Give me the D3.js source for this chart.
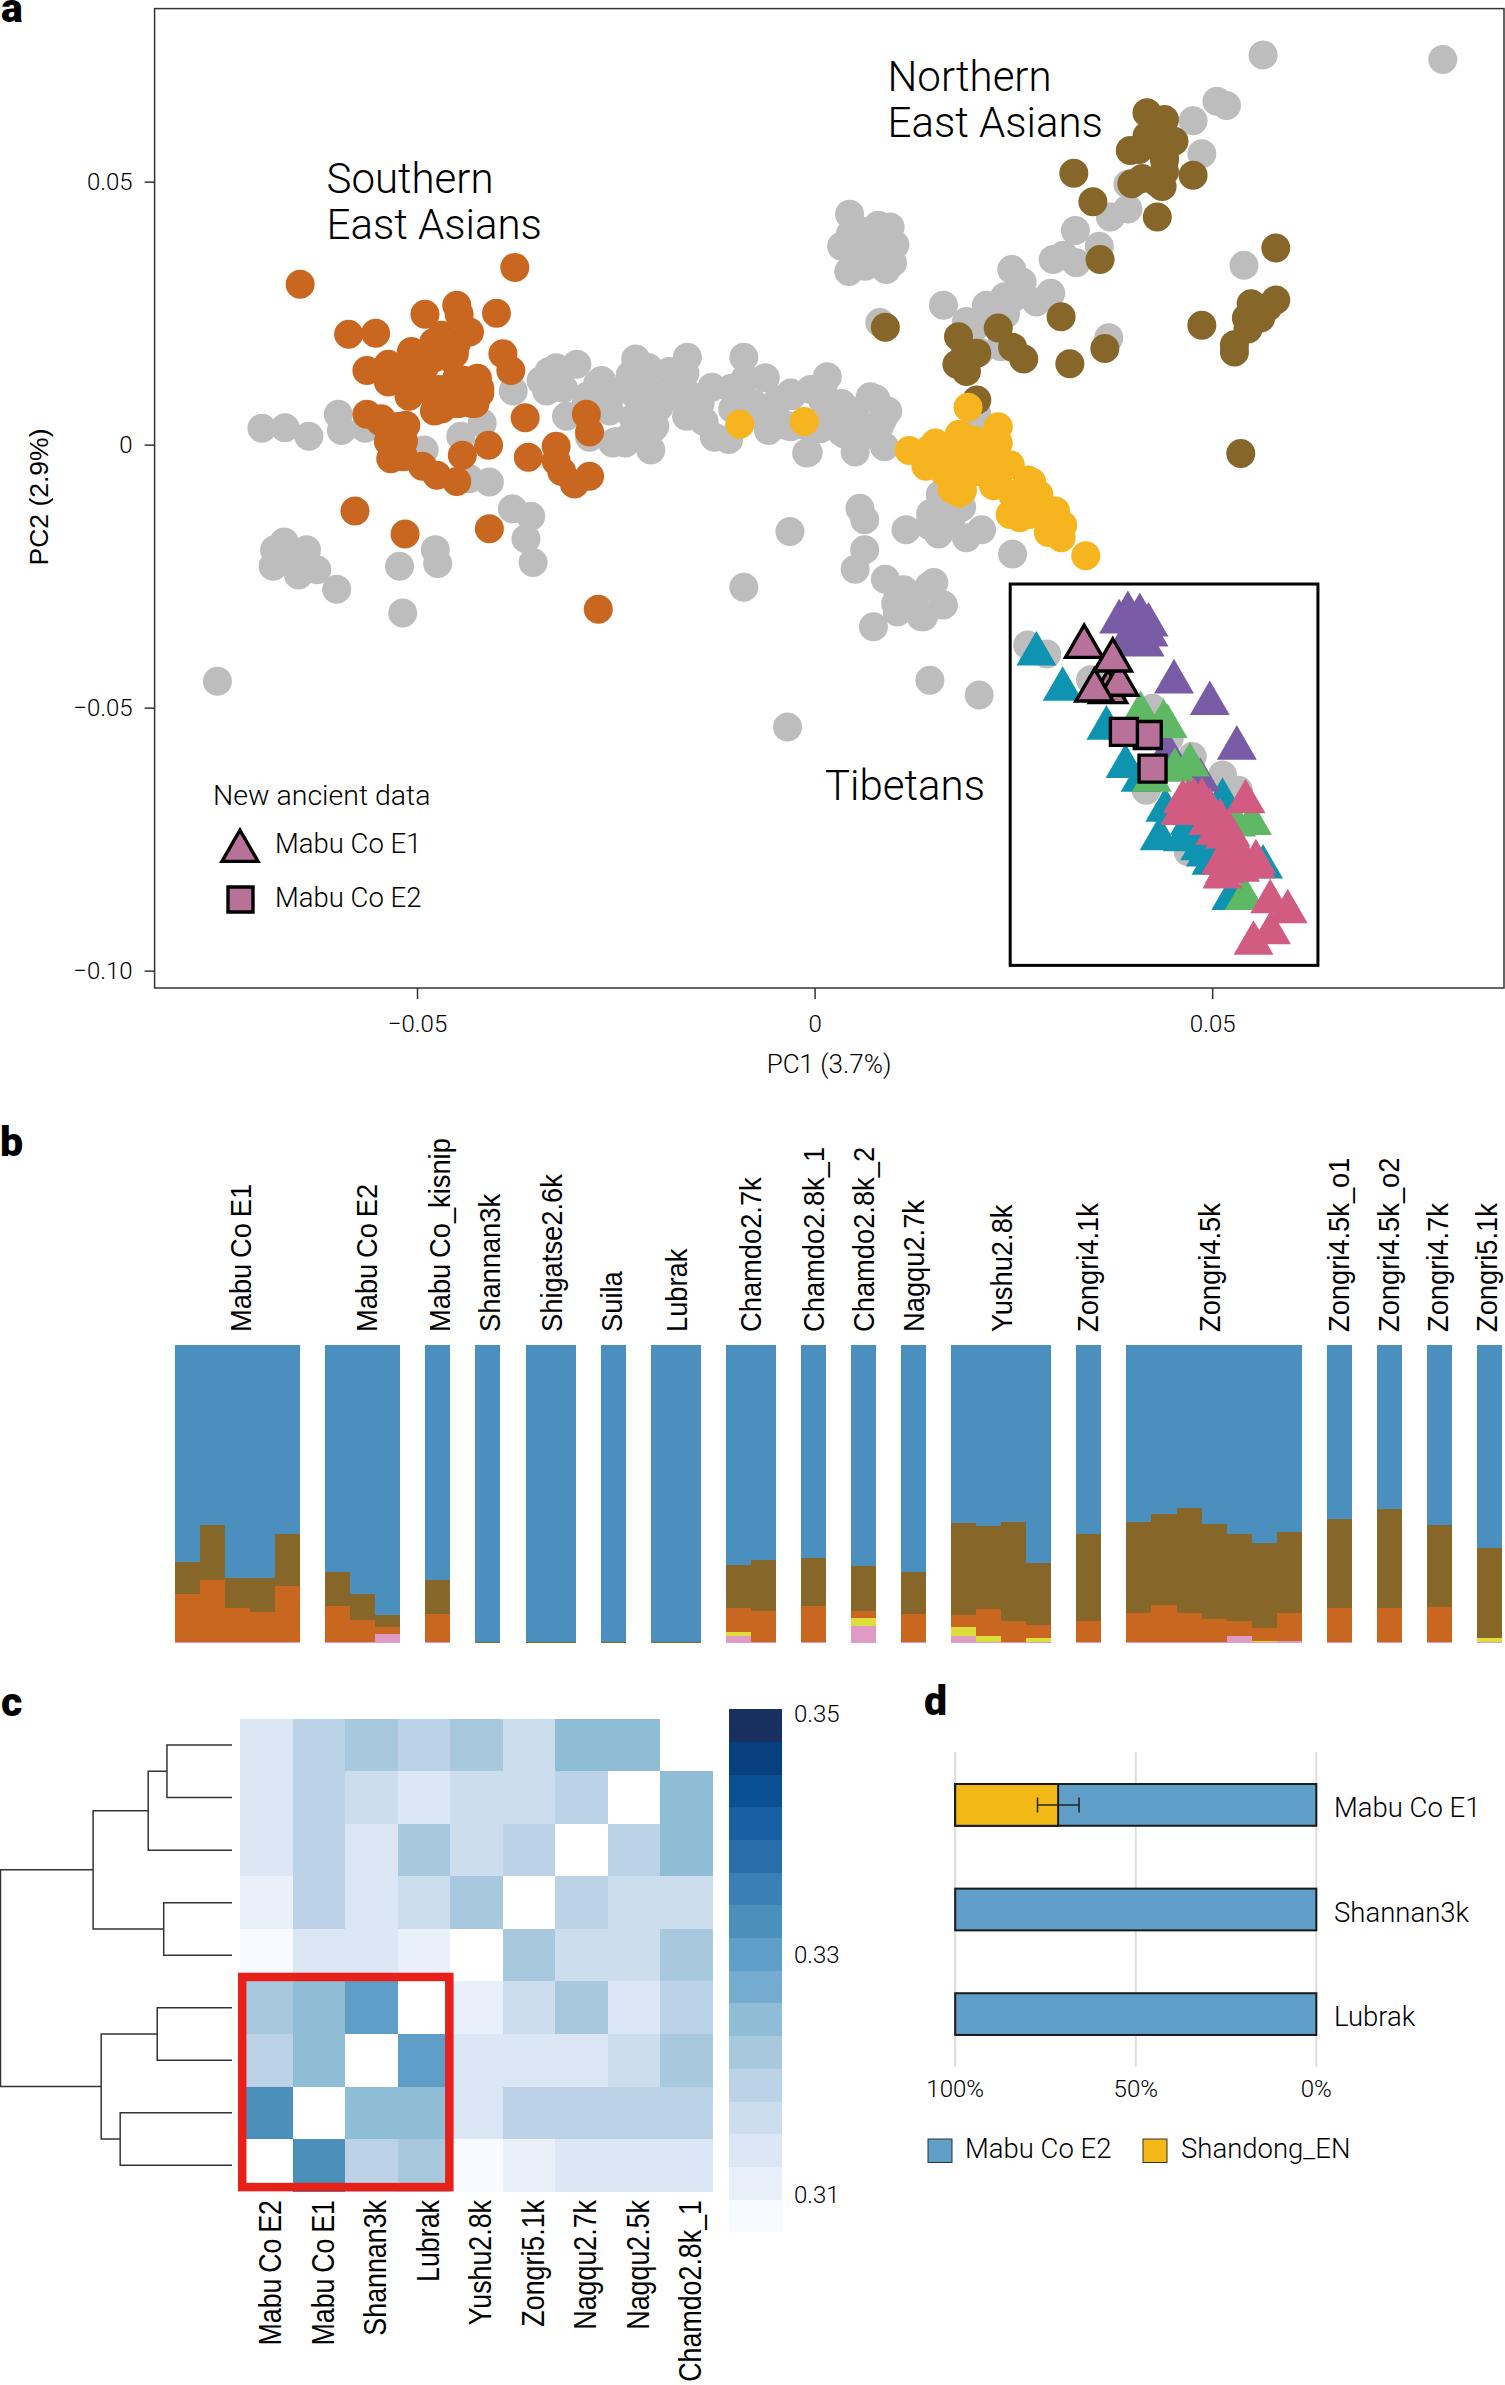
<!DOCTYPE html>
<html>
<head>
<meta charset="utf-8">
<script src="https://cdn.jsdelivr.net/npm/d3@7"></script>
<style>
  html, body { margin: 0; background: #fff; }
  svg { display: block; }
  text { font-family: Roboto, sans-serif; font-weight: 300; fill: #000; }
  .helv { font-family: "Liberation Sans", Arial, sans-serif; font-weight: 400; }
</style>
</head>
<body>
<svg width="1505" height="2385"></svg>
<script>
// panel a: PCA points, [PC1, PC2]
const grayPoints = [
  [-0.0695,0.0031],[-0.0666,0.0032],[-0.0636,0.0016],[-0.0599,0.0058],[-0.0595,0.0027],[-0.0565,0.0031],
  [-0.0491,-0.001],[-0.0418,0.0041],[-0.0445,0.0016],[-0.0409,-0.0071],[-0.0434,-0.0065],[-0.0379,0.0102],
  [-0.0337,0.0102],[-0.0334,0.0139],[-0.0325,0.0146],[-0.0299,0.0153],[-0.0312,0.0054],[-0.0283,0.0014],
  [-0.0273,0.0115],[-0.0286,0.0092],[-0.0254,0.0098],[-0.0254,0.0003],[-0.0238,0.0003],[-0.0206,-0.001],
  [-0.0203,0.0031],[-0.0225,0.0163],[-0.0209,0.0146],[-0.0232,0.0132],[-0.0228,0.0098],[-0.0228,0.0051],
  [-0.0206,0.0098],[-0.0183,0.0139],[-0.016,0.0166],[-0.0196,0.0071],[-0.0158,0.0095],[-0.0161,0.0054],
  [-0.0139,0.0044],[-0.0129,0.0109],[-0.0126,0.0014],[-0.0108,0.001],[-0.0089,0.0166],[-0.0087,0.0126],
  [-0.0062,0.0127],[-0.0094,0.0098],[-0.0103,0.0068],[-0.0068,0.0054],[-0.0058,0.0027],[-0.0046,0.0085],
  [-0.003,0.0098],[-0.003,0.0034],[-0.001,-0.0016],[-0.038,-0.0122],[-0.0357,-0.0136],[-0.0363,-0.0179],
  [-0.0354,-0.0224],[-0.0089,-0.0271],[-0.0034,-0.0537],[-0.0751,-0.045],[-0.0679,-0.02],[-0.0667,-0.0185],
  [-0.0639,-0.02],[-0.0681,-0.0231],[-0.0649,-0.0248],[-0.0658,-0.0221],[-0.0626,-0.0238],[-0.0601,-0.0275],
  [-0.0522,-0.0231],[-0.0477,-0.02],[-0.0474,-0.0226],[-0.0518,-0.032],
  [0.0564,0.0741],[0.079,0.0732],[0.0506,0.0653],[0.0518,0.0645],[0.0476,0.0616],[0.0487,0.0553],
  [0.0394,0.0495],[0.0394,0.0448],[0.0372,0.0433],[0.0328,0.0407],[0.0358,0.0377],[0.03,0.0352],
  [0.0313,0.036],[0.0329,0.0346],[0.054,0.0341],[0.0044,0.0438],[0.008,0.0417],[0.0095,0.0414],
  [0.0034,0.0377],[0.0101,0.038],[0.0043,0.0329],[0.0064,0.0339],[0.009,0.0333],[0.0098,0.0346],
  [0.007,0.0377],[0.0248,0.0333],[0.0261,0.0309],[0.0249,0.0278],[0.0297,0.0288],[0.0279,0.0271],
  [0.0162,0.0265],[0.0216,0.0265],[0.024,0.0248],[0.0082,0.0232],[0.0191,0.0234],[0.0234,0.0186],
  [0.037,0.0203],[0.0207,0.0176],[-0.0048,0.0078],[-0.0005,0.0105],[0.0016,0.0129],[-0.0036,0.0037],
  [0.0007,0.003],[0.001,0.0085],[0.0034,0.0078],[0.007,0.0091],[0.0092,0.0064],[0.0052,0.0051],
  [0.0082,0.0037],[0.0034,0.0024],[0.0051,-0.0014],[0.0088,-0.0004],[-0.0008,-0.0015],[0.0204,0.0058],
  [0.0158,-0.0095],[0.0146,-0.0131],[0.0185,-0.0119],[0.0156,-0.017],[0.0191,-0.0177],[0.021,-0.0162],
  [0.0057,-0.0121],[0.0063,-0.0143],[-0.0031,-0.0165],[0.0115,-0.0162],[0.0063,-0.02],[0.0249,-0.0208],
  [0.0051,-0.0237],[0.0089,-0.0256],[0.015,-0.0262],[0.0112,-0.0276],[0.0162,-0.0305],[0.0102,-0.0302],
  [0.0126,-0.0302],[0.0104,-0.0318],[0.0137,-0.0327],[0.0074,-0.0346],[0.0145,-0.0448],[0.0207,-0.0476],
  [0.0268,-0.0381],[0.0292,-0.0398],[0.0347,-0.0447],[0.0425,-0.0501],[0.0446,-0.0558],[0.0475,-0.0593],
  [0.0513,-0.0628],[0.0533,-0.0657],[0.0417,-0.0657],[0.047,-0.0774],
  [0.0065,0.0405],[0.006,0.036],[0.0085,0.036],[0.0055,0.0375],[0.0085,0.04],[0.0045,0.04],[0.0075,0.0345],[0.0055,0.0345],
  [-0.0268,0.0122],[-0.0258,0.0064],[-0.0239,0.0107],[-0.021,0.0078],[-0.023,0.002],[-0.0201,0.0035],[-0.0182,0.0093],
  [-0.0287,0.0078],[-0.0249,0.0006],[-0.0316,0.0107],[-0.0344,0.0122],[-0.0163,0.0136],[-0.0144,0.0078],
  [0.0019,0.0049],[0.0048,0.0064],[0.0067,0.002],[0.0038,0.002],[0.0086,0.0049],[0.001,0.0107],[-0.0029,0.0093],
  [-0.001,0.0035],[0.0077,0.0087],[-0.0048,0.0049],[-0.0077,0.0078],[-0.0105,0.0107],
  [0.0124,-0.0298],[0.0144,-0.0269],[0.0105,-0.0284],[0.0134,-0.0327],[0.0172,-0.0139],[0.0144,-0.0153],
  [0.0201,0.0223],[0.0239,0.0281],[0.022,0.0252]
];
const orangePoints = [
  [-0.0647,0.0305],[-0.0377,0.0337],[-0.0586,0.021],[-0.0552,0.0212],[-0.049,0.0248],[-0.045,0.0265],
  [-0.0447,0.0248],[-0.04,0.025],[-0.0434,0.0214],[-0.0392,0.0173],[-0.0382,0.0141],[-0.0563,0.0141],
  [-0.0536,0.0153],[-0.0507,0.0177],[-0.0479,0.0194],[-0.0453,0.0173],[-0.0536,0.0119],[-0.051,0.0126],
  [-0.051,0.0092],[-0.0491,0.0146],[-0.0469,0.0068],[-0.0472,0.0105],[-0.0447,0.0078],[-0.0427,0.0078],
  [-0.0421,0.0098],[-0.0424,0.0126],[-0.045,0.0126],[-0.0563,0.0058],[-0.0546,0.0044],[-0.0514,0.0037],
  [-0.0533,0.001],[-0.0517,0.0007],[-0.0533,-0.0027],[-0.041,-0.0001],[-0.0443,-0.002],[-0.0493,-0.0041],
  [-0.0475,-0.0058],[-0.045,-0.007],[-0.0364,0.0051],[-0.0287,0.0058],[-0.0283,0.0024],[-0.036,-0.0024],
  [-0.0325,-0.0003],[-0.0325,-0.0031],[-0.0318,-0.0051],[-0.0302,-0.0075],[-0.0283,-0.006],[-0.0578,-0.0126],
  [-0.0515,-0.017],[-0.0409,-0.016],[-0.0272,-0.0313],
  [-0.0536,0.0136],[-0.0517,0.0122],[-0.0498,0.015],[-0.0478,0.0165],[-0.0459,0.0165],[-0.0498,0.0107],
  [-0.0478,0.0093],[-0.0459,0.0107],[-0.044,0.0122],[-0.0478,0.0064],[-0.045,0.0078],[-0.0421,0.0107],
  [-0.0431,0.0078],[-0.0507,0.0136],[-0.045,0.0194],[-0.0469,0.0208],[-0.0536,0.0006],[-0.0522,0.0035],
  [-0.0545,0.0049],[-0.0517,-0.0023]
];
const brownPoints = [
  [0.0418,0.0631],[0.044,0.0618],[0.0418,0.0587],[0.0452,0.0577],[0.0397,0.0559],[0.044,0.0546],
  [0.0476,0.0512],[0.044,0.0519],[0.0399,0.0496],[0.0412,0.0506],[0.0437,0.0491],[0.0326,0.0516],
  [0.035,0.0462],[0.0431,0.0433],[0.0359,0.0352],[0.058,0.0374],[0.0549,0.0268],[0.058,0.0275],
  [0.0543,0.0241],[0.0561,0.0241],[0.057,0.0261],[0.0487,0.0227],[0.0528,0.019],[0.0528,0.0176],
  [0.031,0.0243],[0.0089,0.0223],[0.0231,0.0222],[0.0181,0.0205],[0.0204,0.0174],[0.0179,0.0153],
  [0.0191,0.0139],[0.0249,0.0185],[0.0263,0.0163],[0.0321,0.0154],[0.0365,0.0183],[0.0204,0.0085],
  [0.0536,-0.0017],[0.0421,0.0584],[0.044,0.0541],[0.0431,0.0498],[0.0408,0.0561],[0.019,0.0175],[0.0545,0.022]
];
const yellowPoints = [
  [-0.0094,0.0039],[-0.0013,0.0044],[0.0193,0.0071],[0.0231,0.0034],[0.0119,-0.0011],[0.0152,0.0003],
  [0.014,-0.0041],[0.0198,0.0009],[0.0231,0.0003],[0.0179,-0.0031],[0.0216,-0.0038],[0.0173,-0.0085],
  [0.0182,-0.0092],[0.0179,-0.0065],[0.0225,-0.0078],[0.0246,-0.0038],[0.0273,-0.0071],[0.0282,-0.0095],
  [0.0246,-0.0133],[0.027,-0.0133],[0.0303,-0.0126],[0.0312,-0.0153],[0.0294,-0.0167],[0.031,-0.0177],
  [0.0341,-0.0211],
  [0.0144,-0.0009],[0.0172,-0.0023],[0.0191,-0.0009],[0.021,0.0006],[0.0163,-0.0052],[0.0201,-0.0052],
  [0.023,-0.0067],[0.0249,-0.0095],[0.0277,-0.0095],[0.0258,-0.0139],[0.0287,-0.0124],[0.0182,0.002],
  [0.022,-0.0023],[0.0239,-0.0038],[0.0297,-0.0153],[0.0268,-0.0067],[0.0186,-0.0087]
];
const tealTriangles = [
  [0.0279,-0.0398],[0.0312,-0.0465],[0.0367,-0.0539],[0.0391,-0.0612],[0.041,-0.0638],[0.0441,-0.0695],
  [0.0434,-0.0749],[0.0472,-0.072],[0.0472,-0.0739],[0.0485,-0.0768],[0.0499,-0.0796],[0.0513,-0.0676],
  [0.0564,-0.0803],[0.0524,-0.0863],[0.0463,-0.0751],[0.0492,-0.078],[0.0506,-0.079],[0.0525,-0.0793]
];
const purpleTriangles = [
  [0.0383,-0.0337],[0.0394,-0.0321],[0.0409,-0.0325],[0.042,-0.0343],[0.0415,-0.0381],[0.042,-0.0362],
  [0.04,-0.0359],[0.039,-0.038],[0.0452,-0.0451],[0.0497,-0.0492],[0.0531,-0.0577],[0.0444,-0.0587],
  [0.0485,-0.0638]
];
const greenTriangles = [
  [0.041,-0.0511],[0.0439,-0.0527],[0.0444,-0.0536],[0.0453,-0.0619],[0.0472,-0.0609],[0.0424,-0.0638],
  [0.055,-0.072],[0.0541,-0.0863],[0.053,-0.0723]
];
const pinkTriangles = [
  [0.0487,-0.0676],[0.0463,-0.0679],[0.046,-0.0701],[0.0501,-0.0707],[0.0542,-0.0679],[0.0511,-0.0739],
  [0.0516,-0.0746],[0.0525,-0.0758],[0.0516,-0.0812],[0.0513,-0.0822],[0.0555,-0.0793],[0.0573,-0.0869],
  [0.0595,-0.0888],[0.0574,-0.0928],[0.0552,-0.0948],
  [0.047,-0.0679],[0.0497,-0.0695],[0.0485,-0.0698],[0.0477,-0.0676],[0.0523,-0.0742],[0.0504,-0.0739],
  [0.0555,-0.0803],[0.0535,-0.0809],[0.0511,-0.0796],
  [0.0475,-0.07],[0.0495,-0.072],[0.051,-0.0715],[0.053,-0.0765],[0.0525,-0.08]
];
const mabuE1Points = [[0.0369,-0.047],[0.0383,-0.0456],[0.0339,-0.0384],[0.0375,-0.041],[0.0352,-0.0467]];
const mabuE2Points = [[0.0419,-0.0552],[0.0389,-0.0546],[0.0425,-0.0616]];
const insetBox = [0.0246, -0.0265, 0.0633, -0.099];
const pcaXTicks = [-0.05, 0, 0.05];
const pcaYTicks = [0.05, 0, -0.05, -0.1];

// panel b: groups and one row of shares (%) per sample, blue is the rest
const groupNames = ["Mabu Co E1","Mabu Co E2","Mabu Co_kisnip","Shannan3k","Shigatse2.6k","Suila","Lubrak","Chamdo2.7k",
  "Chamdo2.8k_1","Chamdo2.8k_2","Nagqu2.7k","Yushu2.8k","Zongri4.1k","Zongri4.5k","Zongri4.5k_o1","Zongri4.5k_o2","Zongri4.7k","Zongri5.1k"];
const groupSizes = [5,3,1,1,2,1,2,2,1,1,1,4,1,7,1,1,1,1];
const labelNudge = [13,13.8,12.6,11.7,11.6,8.7,11.6,10.5,10.7,10.7,10.7,10.7,9.2,5.8,9.7,9.2,8.7,7.5];
const pinkShare =   [.3,.3,.3,.3,.3, .3,.3,3, .3, 0, 0,0, 0, 0,0, 2.1,.3, .3, 5.7, .3, 2.1,.2,.3,.3, .3, .3,.3,.3,.3,2.4,.1,.5, .3, .3, .3, .3];
const yellowShare = [0,0,0,0,0, 0,0,0, 0, 0, 0,0, 0, 0,0, 1.5,0, 0, 2.7, 0, 3.2,2.2,0,1.3, 0, 0,0,0,0,0,.5,0, 0, 0, 0, 1.3];
const orangeShare = [15.9,20.7,11.4,10,18.8, 12.1,7.3,2.3, 9.4, 0, 0,0, 0, 0,0, 8.1,10.3, 12.1, 2.2, 9.4, 3.9,8.9,7,4.4, 7, 9.6,12.4,9.6,7.7,4.9,4.4,9.4, 11.4, 11.4, 11.7, 0];
const brownShare =  [11,18.5,10.1,11.5,17.4, 11.4,8.8,3.9, 11.3, .3, .3,.3, .3, .3,.3, 14.4,17.3, 16, 15.1, 14.1, 31,27.8,33.3,20.8, 29.2, 30.7,30.5,35.2,31.8,29.2,28.6,27.3, 29.8, 33.2, 27.5, 30.2];

// panel c: f3 table, top row is the last column
const heatCols = ["Mabu Co E2","Mabu Co E1","Shannan3k","Lubrak","Yushu2.8k","Zongri5.1k","Nagqu2.7k","Nagqu2.5k","Chamdo2.8k_1"];
const heatValues = [
  [.3137,.3191,.3219,.3191,.3219,.3164,.3246,.3246,null],
  [.3137,.3191,.3164,.3137,.3164,.3164,.3191,null,.3246],
  [.3137,.3191,.3137,.3219,.3164,.3191,null,.3191,.3246],
  [.311,.3191,.3137,.3164,.3219,null,.3191,.3164,.3164],
  [.3083,.3137,.3137,.311,null,.3219,.3164,.3164,.3219],
  [.3219,.3246,.33,null,.311,.3164,.3219,.3137,.3191],
  [.3191,.3246,null,.33,.3137,.3137,.3137,.3164,.3219],
  [.3327,null,.3246,.3246,.3137,.3191,.3191,.3191,.3191],
  [null,.3327,.3191,.3219,.3083,.311,.3137,.3137,.3137]
];
const heatPalette = ["#f7fafe","#e9f0fa","#dbe7f5","#ccddee","#bbd2e7","#a8c9dd","#8fbdd6","#74abcf","#5f9ec7","#4b8fbb","#3a7fb5","#2a6fab","#175fa2","#0a5093","#083f7f","#17305f"];
const heatTicks = [0.35, 0.33, 0.31];
// merges: two children (leaf row or earlier merge id) and height
const dendroMerges = [
  ["A", 0, 1, 0.281],
  ["B", "A", 2, 0.362],
  ["C", 3, 4, 0.295],
  ["D", "B", "C", 0.6],
  ["E", 5, 6, 0.323],
  ["F", 7, 8, 0.483],
  ["G", "E", "F", 0.565],
  ["R", "D", "G", 1]
];

// panel d
const qpCategories = ["Mabu Co E1","Shannan3k","Lubrak"];
const qpShandong = [71.5, 100, 100];
const qpErrorLow = [65.7, null, null];
const qpErrorHigh = [77.2, null, null];
const qpTicks = [100, 50, 0];

const svg = d3.select("svg");
const color = {
  gray: "#bdbdbd", orange: "#c96620", brown: "#866629", yellow: "#f6b41f",
  teal: "#0e93b0", purple: "#7a5ba5", green: "#5fb863", pink: "#d25c81", mabu: "#b87299",
  blue: "#4b8fbf", mix: "#e09bc4", lime: "#dcdf3b", qpBlue: "#5f9ec7", qpYellow: "#f3ba17"
};

function panelLabel(text, x, y) {
  svg.append("text").attr("x", x).attr("y", y).text(text)
    .style("font-size", "41px").style("font-weight", 900);
}
panelLabel("a", 1, 22);
panelLabel("b", 0, 1156);
panelLabel("c", 1, 1716);
panelLabel("d", 924, 1715);

// ---- panel a
const x = d3.scaleLinear().domain([-0.083, 0.0867]).range([154.6, 1504]);
const y = d3.scaleLinear().domain([-0.1033, 0.0829]).range([988, 8.6]);

function fmt(v) {
  if (v === 0) return "0";
  return (v < 0 ? "\u2212" : "") + Math.abs(v).toFixed(2);
}

const gx = svg.append("g").attr("transform", "translate(0,988)")
  .call(d3.axisBottom(x).tickValues(pcaXTicks).tickFormat(fmt).tickSize(11).tickSizeOuter(0).tickPadding(16));
const gy = svg.append("g").attr("transform", "translate(154.6,0)")
  .call(d3.axisLeft(y).tickValues(pcaYTicks).tickFormat(fmt).tickSize(10).tickSizeOuter(0).tickPadding(12));
[gx, gy].forEach((g) => {
  g.selectAll("text").style("font-size", "24px").style("font-family", "Roboto, sans-serif");
  g.selectAll("line").attr("stroke", "#333").attr("stroke-width", 1.5);
  g.select(".domain").remove();
});
svg.append("rect").attr("x", x.range()[0]).attr("y", y.range()[1])
  .attr("width", x.range()[1] - x.range()[0]).attr("height", y.range()[0] - y.range()[1])
  .attr("fill", "none").attr("stroke", "#333").attr("stroke-width", 1.5);

function drawDots(points, fill) {
  svg.append("g").selectAll("circle").data(points).join("circle")
    .attr("cx", (d) => x(d[0])).attr("cy", (d) => y(d[1])).attr("r", 14.5).attr("fill", fill);
}
drawDots(grayPoints, color.gray);
drawDots(brownPoints, color.brown);
drawDots(orangePoints, color.orange);
drawDots(yellowPoints, color.yellow);

svg.append("rect").attr("x", x(insetBox[0])).attr("y", y(insetBox[1]))
  .attr("width", x(insetBox[2]) - x(insetBox[0])).attr("height", y(insetBox[3]) - y(insetBox[1]))
  .attr("fill", "none").attr("stroke", "#000").attr("stroke-width", 3);

function drawSymbols(points, type, size, fill, stroke) {
  svg.append("g").selectAll("path").data(points).join("path")
    .attr("d", d3.symbol().type(type).size(size))
    .attr("transform", (d) => `translate(${x(d[0])},${y(d[1])})`)
    .attr("fill", fill)
    .attr("stroke", stroke || "none")
    .attr("stroke-width", 3.4)
    .attr("stroke-linejoin", "miter");
}
drawSymbols(tealTriangles, d3.symbolTriangle, 690, color.teal);
drawSymbols(purpleTriangles, d3.symbolTriangle, 690, color.purple);
drawSymbols(greenTriangles, d3.symbolTriangle, 690, color.green);
drawSymbols(pinkTriangles, d3.symbolTriangle, 690, color.pink);
drawSymbols(mabuE1Points, d3.symbolTriangle, 600, color.mabu, "#000");
drawSymbols(mabuE2Points, d3.symbolSquare, 729, color.mabu, "#000");

function note(lines, px, py, size, step) {
  lines.forEach((t, i) => {
    svg.append("text").attr("x", px).attr("y", py + i * step).text(t).style("font-size", size + "px");
  });
}
note(["Southern", "East Asians"], 326.5, 193, 42, 45.6);
note(["Northern", "East Asians"], 887.5, 91, 42, 46);
note(["Tibetans"], 825, 800, 42, 0);
note(["New ancient data"], 213, 805, 28.5, 0);
note(["Mabu Co E1"], 275, 853, 27.5, 0);
note(["Mabu Co E2"], 275, 907, 27.5, 0);
svg.append("path").attr("d", d3.symbol().type(d3.symbolTriangle).size(560))
  .attr("transform", "translate(240,851)").attr("fill", color.mabu).attr("stroke", "#000").attr("stroke-width", 3.4);
svg.append("path").attr("d", d3.symbol().type(d3.symbolSquare).size(625))
  .attr("transform", "translate(240.5,899.5)").attr("fill", color.mabu).attr("stroke", "#000").attr("stroke-width", 3.4);

svg.append("text").attr("x", 829).attr("y", 1073).attr("text-anchor", "middle").text("PC1 (3.7%)").style("font-size", "26px");
svg.append("text").attr("class", "helv").attr("transform", "translate(48,497) rotate(-90)")
  .attr("text-anchor", "middle").text("PC2 (2.9%)").style("font-size", "26.5px");

// ---- panel b
const structureKeys = ["pink", "yellow", "orange", "brown", "blue"];
const structureColors = d3.scaleOrdinal().domain(structureKeys).range([color.mix, color.lime, color.orange, color.brown, color.blue]);

// every sample gets one slot, every group is followed by one empty slot
let slot = 0;
let sampleIdx = 0;
const samples = [];
const groups = [];
groupNames.forEach((name, g) => {
  const start = slot;
  for (let k = 0; k < groupSizes[g]; k++) {
    const other = pinkShare[sampleIdx] + yellowShare[sampleIdx] + orangeShare[sampleIdx] + brownShare[sampleIdx];
    samples.push({
      slot: slot,
      pink: pinkShare[sampleIdx],
      yellow: yellowShare[sampleIdx],
      orange: orangeShare[sampleIdx],
      brown: brownShare[sampleIdx],
      blue: 100 - other,
    });
    slot++;
    sampleIdx++;
  }
  groups.push({ name: name, start: start, end: slot });
  slot++;
});

const sx = d3.scaleBand().domain(d3.range(slot - 1)).range([175, 1502]);
const sy = d3.scaleLinear().domain([0, 100]).range([1642.7, 1345]);
const stacked = d3.stack().keys(structureKeys)(samples);

svg.append("g").attr("shape-rendering", "crispEdges").selectAll("g").data(stacked).join("g")
  .attr("fill", (d) => structureColors(d.key))
  .selectAll("rect").data((d) => d).join("rect")
  .attr("x", (d) => sx(d.data.slot))
  .attr("width", sx.bandwidth())
  .attr("y", (d) => sy(d[1]))
  .attr("height", (d) => sy(d[0]) - sy(d[1]));

// glyphs in the original are taller than the run is long
function rotatedLabel(text, px, py, size, squeeze, anchor) {
  svg.append("text").attr("class", "helv")
    .attr("transform", `translate(${px},${py}) rotate(-90) scale(${squeeze},1)`)
    .attr("text-anchor", anchor)
    .text(text).style("font-size", size + "px").style("word-spacing", "-2px");
}
groups.forEach((g, i) => {
  const center = (sx(g.start) + sx(g.end - 1) + sx.bandwidth()) / 2;
  rotatedLabel(g.name, center + labelNudge[i], 1332, 30, 0.91, "start");
});

// ---- panel c
const hx = d3.scaleBand().domain(d3.range(9)).range([240.2, 713]);
const hy = d3.scaleBand().domain(d3.range(9)).range([1718.8, 2191.6]);
const hc = d3.scaleQuantize().domain([0.3069, 0.3504]).range(heatPalette);

heatValues.forEach((row, r) => {
  svg.append("g").attr("shape-rendering", "crispEdges").selectAll("rect").data(row).join("rect")
    .attr("x", (d, c) => hx(c)).attr("y", hy(r))
    .attr("width", hx.bandwidth()).attr("height", hy.bandwidth())
    .attr("fill", (d) => (d === null ? "#fff" : hc(d)));
});

svg.append("rect")
  .attr("x", hx(0) + 2).attr("y", hy(5) - 4.5)
  .attr("width", hx(3) + hx.bandwidth() - hx(0) - 3).attr("height", hy(8) + hy.bandwidth() - hy(5))
  .attr("fill", "none").attr("stroke", "#e8201a").attr("stroke-width", 8.5);

heatCols.forEach((name, c) => {
  rotatedLabel(name, hx(c) + hx.bandwidth() / 2 + 14.5, 2200, 31, 0.865, "end");
});

// colour bar
const barScale = d3.scaleLinear().domain([0.31, 0.35]).range([2195, 1714]);
svg.append("g").attr("shape-rendering", "crispEdges").selectAll("rect").data(heatPalette).join("rect")
  .attr("x", 729).attr("width", 52.7)
  .attr("y", (d) => barScale(hc.invertExtent(d)[1]))
  .attr("height", (d) => barScale(hc.invertExtent(d)[0]) - barScale(hc.invertExtent(d)[1]))
  .attr("fill", (d) => d);
svg.append("g").selectAll("text").data(heatTicks).join("text")
  .attr("x", 794).attr("y", (d) => barScale(d) + 8)
  .text((d) => d.toFixed(2)).style("font-size", "24px");

// dendrogram
const dx = d3.scaleLinear().domain([0, 1]).range([232, 0.5]);
const nodes = {};
function nodeOf(id) {
  if (typeof id === "number") return { h: 0, y: hy(id) + hy.bandwidth() / 2 };
  return nodes[id];
}
const elbow = [];
dendroMerges.forEach(([id, a, b, h]) => {
  const na = nodeOf(a);
  const nb = nodeOf(b);
  nodes[id] = { h: h, y: (na.y + nb.y) / 2 };
  elbow.push(`M${dx(na.h)},${na.y}H${dx(h)}V${nb.y}H${dx(nb.h)}`);
});
svg.append("path").attr("d", elbow.join("")).attr("fill", "none").attr("stroke", "#333").attr("stroke-width", 1.5);

// ---- panel d
const qx = d3.scaleLinear().domain([100, 0]).range([955.2, 1316.3]);
const qy = d3.scaleBand().domain(qpCategories).range([1751.6, 2067.4]).paddingInner(0.601).paddingOuter(0.31);

svg.append("g").selectAll("line").data(qpTicks).join("line")
  .attr("x1", (d) => qx(d)).attr("x2", (d) => qx(d)).attr("y1", 1751.7).attr("y2", 2066.7)
  .attr("stroke", "#ddd").attr("stroke-width", 2);

svg.append("g").selectAll("rect").data(qpCategories).join("rect")
  .attr("x", qx(100)).attr("width", qx(0) - qx(100))
  .attr("y", (d) => qy(d)).attr("height", qy.bandwidth())
  .attr("fill", color.qpBlue).attr("stroke", "#1a1a1a").attr("stroke-width", 2);

// share of Shandong_EN is only above 0 for the first bar, the others are all Mabu Co E2
const shandongShown = qpShandong.map((v) => (v === 100 ? 0 : 100 - v));
svg.append("g").selectAll("rect").data(qpCategories.filter((d, i) => shandongShown[i] > 0)).join("rect")
  .attr("x", qx(100)).attr("width", (d) => qx(qpShandong[qpCategories.indexOf(d)]) - qx(100))
  .attr("y", (d) => qy(d)).attr("height", qy.bandwidth())
  .attr("fill", color.qpYellow).attr("stroke", "#1a1a1a").attr("stroke-width", 2);

qpCategories.forEach((name, i) => {
  const mid = qy(name) + qy.bandwidth() / 2;
  if (qpErrorLow[i] !== null) {
    const xl = qx(qpErrorHigh[i]);
    const xh = qx(qpErrorLow[i]);
    svg.append("path").attr("d", `M${xl},${mid - 7.5}V${mid + 7.5}M${xl},${mid}H${xh}M${xh},${mid - 7.5}V${mid + 7.5}`)
      .attr("fill", "none").attr("stroke", "#222").attr("stroke-width", 1.5);
  }
  svg.append("text").attr("x", 1334).attr("y", mid + 12).text(name).style("font-size", "27.5px");
});

svg.append("g").selectAll("text").data(qpTicks).join("text")
  .attr("x", (d) => qx(d)).attr("y", 2097).attr("text-anchor", "middle")
  .text((d) => d + "%").style("font-size", "24px");

[["Mabu Co E2", color.qpBlue, 928, 965], ["Shandong_EN", color.qpYellow, 1143, 1181]].forEach(([name, fill, bx, tx]) => {
  svg.append("rect").attr("x", bx).attr("y", 2139).attr("width", 24).attr("height", 23.5)
    .attr("fill", fill).attr("stroke", "#333").attr("stroke-width", 1);
  svg.append("text").attr("x", tx).attr("y", 2158).text(name).style("font-size", "27.5px");
});
</script>
</body>
</html>
